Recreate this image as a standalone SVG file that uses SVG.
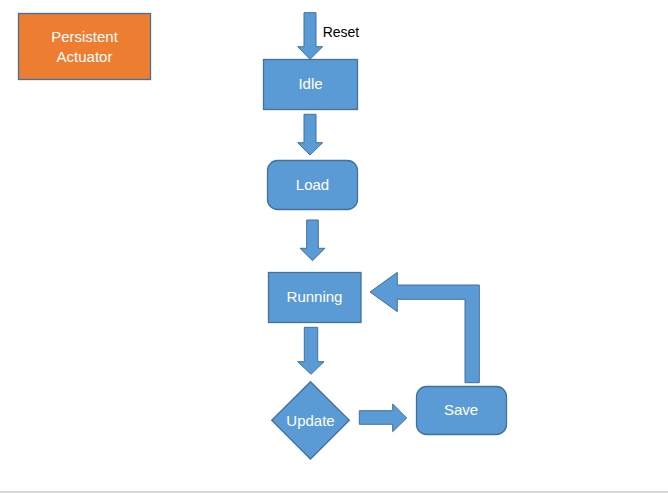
<svg xmlns="http://www.w3.org/2000/svg" width="668" height="493" viewBox="0 0 668 493">
<style>
.n{fill:#5B9BD5;stroke:#41719C;stroke-width:1.3}
.o{fill:#ED7D31;stroke:#41719C;stroke-width:1.3}
.a{fill:#5B9BD5;stroke:#41719C;stroke-width:1}
.t{font-family:"Liberation Sans",Arial,sans-serif;font-size:15px;fill:#ffffff;text-anchor:middle}
.l{font-family:"Liberation Sans",Arial,sans-serif;font-size:14px;fill:#000000}
</style>
<rect width="668" height="493" fill="#ffffff"/>
<line x1="0" y1="492" x2="668" y2="492" stroke="#c8c8c8" stroke-width="1.5"/>
<g id="persistent-actuator">
<rect class="o" x="18.5" y="13.5" width="132" height="66"/>
<text class="t" x="84.5" y="41.5">Persistent</text>
<text class="t" x="84.5" y="61.5">Actuator</text>
</g>
<g id="idle">
<rect class="n" x="263.5" y="59.5" width="94" height="50"/>
<text class="t" x="310.5" y="89">Idle</text>
</g>
<g id="load">
<rect class="n" x="267.5" y="160.5" width="90" height="49" rx="10"/>
<text class="t" x="312.5" y="190">Load</text>
</g>
<g id="running">
<rect class="n" x="268.5" y="272.5" width="92.5" height="50"/>
<text class="t" x="314.5" y="302">Running</text>
</g>
<g id="update">
<polygon class="n" points="310.5,381.7 349.3,420.3 310.5,459 271.7,420.3"/>
<text class="t" x="310.5" y="426">Update</text>
</g>
<g id="save">
<rect class="n" x="416.5" y="386.5" width="90" height="48" rx="10"/>
<text class="t" x="461" y="415">Save</text>
</g>
<g id="connectors">
<polygon class="a" points="304,12.7 316,12.7 316,46.7 322.7,46.7 310,59.3 297.7,46.7 304,46.7"/>
<text class="l" x="322.7" y="36.7">Reset</text>
<polygon class="a" points="304,114.3 316,114.3 316,142.7 322.7,142.7 310,155 297.7,142.7 304,142.7"/>
<polygon class="a" points="306.7,220 318.3,220 318.3,248.3 325,248.3 312.5,260.7 300,248.3 306.7,248.3"/>
<polygon class="a" points="304.3,327.3 317.7,327.3 317.7,361.7 324,361.7 311,374.3 297.7,361.7 304.3,361.7"/>
<polygon class="a" points="359.3,410.7 392.7,410.7 392.7,404 406.7,418 392.7,431.7 392.7,424.3 359.3,424.3"/>
<polygon class="a" points="465,382.7 465,299.3 397.3,299.3 397.3,311.7 370,292 397.3,272.3 397.3,285 479.3,285 479.3,382.7"/>
</g>
</svg>
